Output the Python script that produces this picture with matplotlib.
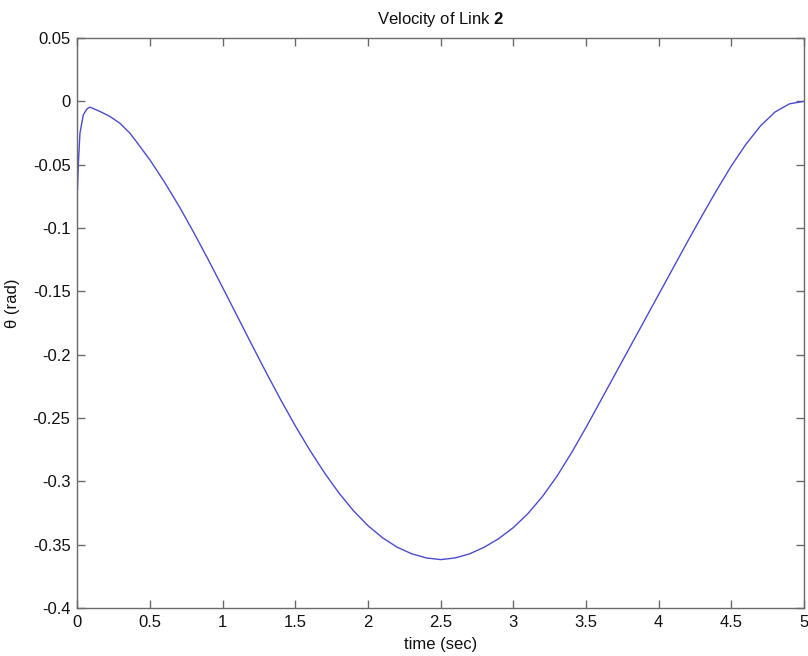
import matplotlib
matplotlib.use("Agg")
import matplotlib.pyplot as plt

plt.rcParams['font.family'] = ['Liberation Sans', 'DejaVu Sans']
plt.rcParams['axes.unicode_minus'] = False
plt.rcParams['mathtext.fontset'] = 'custom'
plt.rcParams['mathtext.rm'] = 'Liberation Sans'
plt.rcParams['mathtext.bf'] = 'Liberation Sans:bold'

# Joint velocity of link 2 over the trajectory
time_s = [0.000, 0.006, 0.017, 0.040, 0.065, 0.086, 0.155, 0.224, 0.292, 0.361,
          0.4, 0.5, 0.6, 0.7, 0.8, 0.9, 1.0, 1.1, 1.2, 1.3,
          1.4, 1.5, 1.6, 1.7, 1.8, 1.9, 2.0, 2.1, 2.2, 2.3,
          2.4, 2.5, 2.6, 2.7, 2.8, 2.9, 3.0, 3.1, 3.2, 3.3,
          3.4, 3.5, 3.6, 3.7, 3.8, 3.9, 4.0, 4.1, 4.2, 4.3,
          4.4, 4.5, 4.6, 4.7, 4.8, 4.9, 5.0]
velocity = [-0.0698, -0.0490, -0.0252, -0.0107, -0.0060, -0.0046, -0.0080, -0.0120,
            -0.0173, -0.0252,
            -0.0310, -0.0465, -0.0640, -0.0830, -0.1035, -0.1250, -0.1472, -0.1697,
            -0.1922, -0.2144, -0.2359, -0.2564, -0.2756, -0.2933, -0.3093, -0.3233,
            -0.3351, -0.3446, -0.3520, -0.3572, -0.3605, -0.3618, -0.3605, -0.3572,
            -0.3520, -0.3452, -0.3365, -0.3255, -0.3120, -0.2960, -0.2775, -0.2575,
            -0.2365, -0.2155, -0.1945, -0.1735, -0.1525, -0.1315, -0.1105, -0.0900,
            -0.0700, -0.0510, -0.0340, -0.0195, -0.0085, -0.0020, 0.0000]

x_ticks = [0, 0.5, 1, 1.5, 2, 2.5, 3, 3.5, 4, 4.5, 5]
x_labels = ['0', '0.5', '1', '1.5', '2', '2.5', '3', '3.5', '4', '4.5', '5']
y_ticks = [-0.4, -0.35, -0.3, -0.25, -0.2, -0.15, -0.1, -0.05, 0, 0.05]
y_labels = ['-0.4', '-0.35', '-0.3', '-0.25', '-0.2', '-0.15', '-0.1', '-0.05', '0', '0.05']

fig = plt.figure(figsize=(8.08, 6.56), dpi=100)
ax = fig.add_axes([0.0959, 0.0732, 0.8991, 0.8689])

ax.plot(time_s, velocity, color='#4b4bd2', linewidth=1.0)

ax.set_xlim(0, 5)
ax.set_ylim(-0.4, 0.05)
ax.set_xticks(x_ticks)
ax.set_xticklabels(x_labels)
ax.set_yticks(y_ticks)
ax.set_yticklabels(y_labels)

for side in ax.spines.values():
    side.set_color('#6a6a6a')
    side.set_linewidth(1.0)
ax.tick_params(direction='in', length=5.5, width=1.0, color='#6a6a6a',
               top=True, right=True, labelsize=12, labelcolor='#111111', pad=5)

ax.set_title(r'Velocity of Link $\mathbf{2}$', fontsize=12, color='#111111', pad=10)
ax.set_xlabel('time (sec)', fontsize=12, color='#111111', labelpad=5)
ax.set_ylabel('θ (rad)', fontsize=12, color='#111111')
ax.yaxis.set_label_coords(-0.079, 0.535)

fig.savefig('out.png', dpi=100)
